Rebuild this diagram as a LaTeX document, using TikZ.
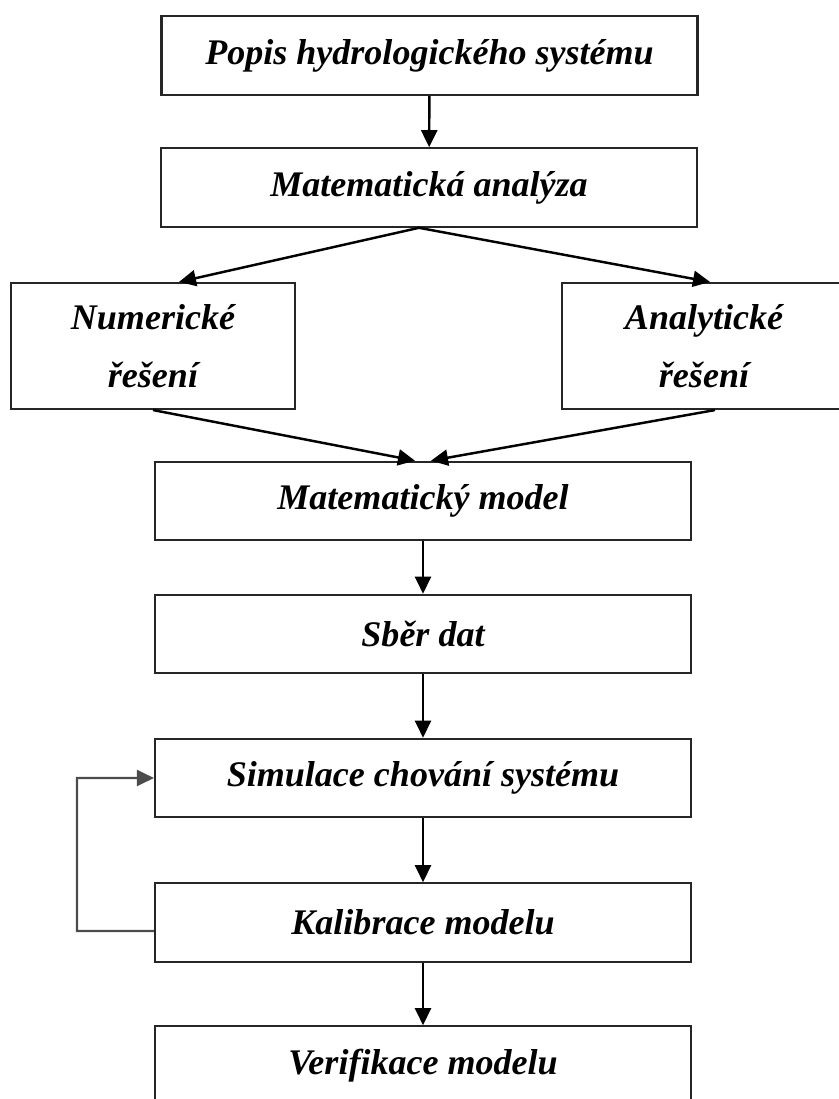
\documentclass[tikz,border=0pt]{standalone}
\usepackage{fontspec}
\setmainfont{Liberation Serif}
\usepackage{tikz}
\usetikzlibrary{
  arrows.meta,
  positioning,
  calc
}

\begin{document}
\begin{tikzpicture}[
  hbox/.style={
    draw=black!85, line width=1.2pt,
    minimum width=10.72cm, minimum height=1.57cm,
    font=\fontsize{20.5pt}{33pt}\selectfont\bfseries\itshape,
    align=center, inner sep=2pt
  },
  sbox/.style={
    hbox, minimum width=5.68cm, minimum height=2.52cm
  },
  arrow/.style={
    -{Triangle[length=3.4mm, width=3.2mm]},
    line width=1.4pt, draw=black
  },
  backarrow/.style={
    -{Triangle[length=3.4mm, width=3.2mm]},
    line width=1.2pt, draw=black!70
  }
]
\useasboundingbox (0,0) rectangle (16.76,-21.98);

\node[hbox] (popis) at (8.59, -1.11) {Popis hydrologického systému};
\node[hbox] (anal)  at (8.58, -3.75) {Matematická analýza};
\node[sbox] (num)   at (3.06, -6.92) {Numerické\\řešení};
\node[sbox] (ana)   at (14.08,-6.92) {Analytické\\řešení};
\node[hbox] (model) at (8.46,-10.02) {Matematický model};
\node[hbox] (sber)  at (8.46,-12.68) {Sběr dat};
\node[hbox] (sim)   at (8.46,-15.56) {Simulace chování systému};
\node[hbox] (kal)   at (8.46,-18.45) {Kalibrace modelu};
\node[hbox] (ver)   at (8.46,-21.31) {Verifikace modelu};

\coordinate (fb) at (1.54,-18.62);

\draw[arrow] (popis) -- (anal);
\draw[arrow] ([xshift=-2mm]anal.south) -- ([xshift=5.2mm]num.north);
\draw[arrow] ([xshift=-2mm]anal.south) -- ([xshift=1.2mm]ana.north);
\draw[arrow] (num.south) -- ([xshift=-1.6mm]model.north);
\draw[arrow] ([xshift=2.2mm]ana.south) -- ([xshift=1.6mm]model.north);
\draw[arrow] (model) -- (sber);
\draw[arrow] (sber) -- (sim);
\draw[arrow] (sim) -- (kal);
\draw[arrow] (kal) -- (ver);
\draw[backarrow] ([yshift=-1.7mm]kal.west) -- (fb) |- (sim.west);
\end{tikzpicture}
\end{document}
